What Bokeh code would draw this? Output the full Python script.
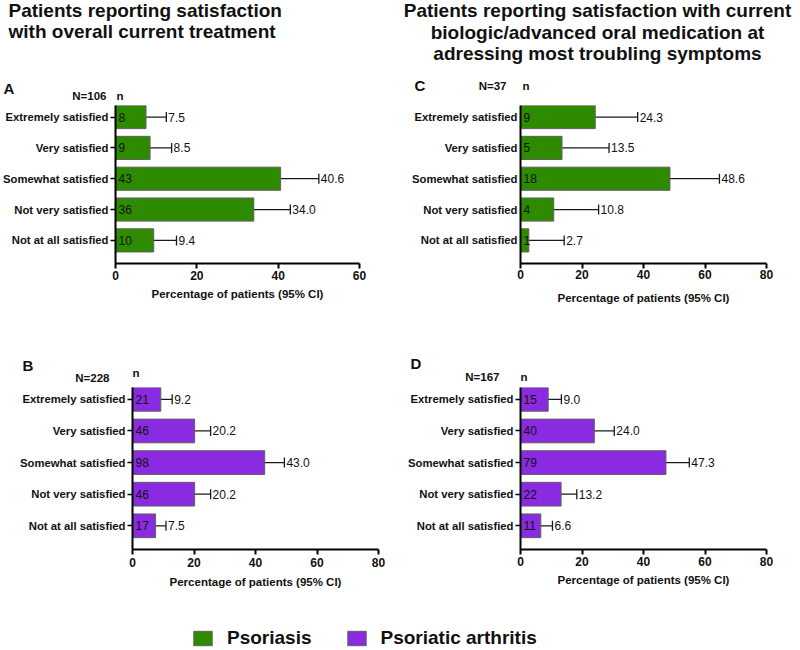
from bokeh.plotting import figure
from bokeh.models import (ColumnDataSource, Range1d, FixedTicker, Whisker, TeeHead,
                          Legend, LegendItem)
from bokeh.layouts import column, row
from bokeh.embed import file_html
from bokeh.resources import INLINE
from bokeh.core.properties import value

# ---------------- data ----------------
categories = ["Extremely satisfied", "Very satisfied", "Somewhat satisfied",
              "Not very satisfied", "Not at all satisfied"]

# A: overall current treatment, psoriasis (N=106)
a_n = [8, 9, 43, 36, 10]
a_pct = [7.5, 8.5, 40.6, 34.0, 9.4]
a_lo = [2.5, 3.2, 31.2, 25.0, 3.9]
a_hi = [12.5, 13.8, 50.0, 43.0, 15.0]

# B: overall current treatment, psoriatic arthritis (N=228)
b_n = [21, 46, 98, 46, 17]
b_pct = [9.2, 20.2, 43.0, 20.2, 7.5]
b_lo = [5.4, 15.0, 36.6, 15.0, 4.1]
b_hi = [12.9, 25.4, 49.4, 25.4, 10.9]

# C: biologic/advanced oral, psoriasis (N=37)
c_n = [9, 5, 18, 4, 1]
c_pct = [24.3, 13.5, 48.6, 10.8, 2.7]
c_lo = [10.5, 4.5, 32.5, 3.0, 0.1]
c_hi = [38.1, 28.8, 64.7, 25.4, 14.2]

# D: biologic/advanced oral, psoriatic arthritis (N=167)
d_n = [15, 40, 79, 22, 11]
d_pct = [9.0, 24.0, 47.3, 13.2, 6.6]
d_lo = [4.7, 17.5, 39.7, 8.1, 2.8]
d_hi = [13.3, 30.5, 54.9, 18.3, 10.4]

x_ticks_a = [0, 20, 40, 60]
x_ticks_bcd = [0, 20, 40, 60, 80]

title_left = ["Patients reporting satisfaction", "with overall current treatment"]
title_right = ["Patients reporting satisfaction with current",
               "biologic/advanced oral medication at",
               "adressing most troubling symptoms"]
panel_letters = ["A", "B", "C", "D"]
panel_totals = ["N=106", "N=228", "N=37", "N=167"]
legend_labels = ["Psoriasis", "Psoriatic arthritis"]
x_title = "Percentage of patients (95% CI)"

# ---------------- style ----------------
GREEN = "#2e8b00"
PURPLE = "#8a2be2"
FONT = "Liberation Sans"
TXT = "#111111"
Y_TOP = 4.375
Y_BOT = -0.75


def make_panel(width, height, bl, br, bt, bb, x_end, ticks,
               ns, pct, lo, hi, color, tick_std, title_std, ytick_out=5):
    p = figure(width=width, height=height, x_range=Range1d(0, x_end),
               y_range=Range1d(Y_BOT, Y_TOP), title=None,
               toolbar_location=None, output_backend="svg",
               min_border_left=bl, min_border_right=br,
               min_border_top=bt, min_border_bottom=bb)
    p.outline_line_color = None
    p.grid.visible = False

    ypos = list(range(len(categories) - 1, -1, -1))
    src = ColumnDataSource(dict(
        y=ypos, n=[str(v) for v in ns], pct=pct,
        pct_txt=[f"{v:.1f}" for v in pct], lo=lo, hi=hi))

    p.hbar(y="y", left=0, right="pct", height=0.75, fill_color=color,
           line_color="#5f5f5f", line_width=1, source=src)

    p.add_layout(Whisker(
        base="y", lower="lo", upper="hi", dimension="width", source=src,
        line_color="#1a1a1a", line_width=1.3,
        lower_head=TeeHead(size=10, line_color="#1a1a1a", line_width=1.3),
        upper_head=TeeHead(size=10, line_color="#1a1a1a", line_width=1.3)))

    p.text(x=0, y="y", text="n", x_offset=3, source=src,
           text_align="left", text_baseline="middle",
           text_font=value(FONT), text_font_size="12px", text_color=TXT)
    p.text(x="hi", y="y", text="pct_txt", x_offset=2, source=src,
           text_align="left", text_baseline="middle",
           text_font=value(FONT), text_font_size="12px", text_color=TXT)

    xa = p.xaxis[0]
    xa.ticker = FixedTicker(ticks=ticks)
    xa.axis_label = x_title
    xa.axis_label_text_font = FONT
    xa.axis_label_text_font_size = "11.5px"
    xa.axis_label_text_font_style = "bold"
    xa.axis_label_text_color = TXT
    xa.axis_label_standoff = title_std
    xa.major_label_text_font = FONT
    xa.major_label_text_font_size = "12px"
    xa.major_label_text_font_style = "bold"
    xa.major_label_text_color = TXT
    xa.major_label_standoff = tick_std
    xa.axis_line_width = 2
    xa.axis_line_color = "black"
    xa.major_tick_line_width = 2
    xa.major_tick_out = 5
    xa.major_tick_in = 0
    xa.minor_tick_line_color = None

    ya = p.yaxis[0]
    ya.ticker = FixedTicker(ticks=ypos)
    ya.major_label_overrides = {y: c for y, c in zip(ypos, categories)}
    ya.major_label_text_font = FONT
    ya.major_label_text_font_size = "11.3px"
    ya.major_label_text_font_style = "bold"
    ya.major_label_text_color = TXT
    ya.major_label_standoff = 2 if ytick_out else 3
    ya.axis_line_width = 2
    ya.axis_line_color = "black"
    ya.major_tick_line_width = 1.5
    ya.major_tick_out = ytick_out
    ya.major_tick_in = 0
    if not ytick_out:
        ya.major_tick_line_color = None
    ya.minor_tick_line_color = None
    return p


def make_header(width, height, items):
    """items: (text, x_px, y_px_from_top, align, size)"""
    h = figure(width=width, height=height, x_range=Range1d(0, width),
               y_range=Range1d(height, 0), title=None, toolbar_location=None,
               output_backend="svg", x_axis_location=None, y_axis_location=None,
               min_border=0)
    h.outline_line_color = None
    h.grid.visible = False
    for align in ("left", "center", "right"):
        for size in sorted({it[4] for it in items}):
            sel = [it for it in items if it[3] == align and it[4] == size]
            if not sel:
                continue
            h.text(x=[it[1] for it in sel], y=[it[2] for it in sel],
                   text=[it[0] for it in sel], text_align=align,
                   text_baseline="middle", text_font=value(FONT),
                   text_font_size=size, text_font_style="bold",
                   text_color=TXT)
    return h


T = "19px"
S = "11.5px"
L = "15px"
head1 = make_header(800, 100, [
    (title_left[0], 8, 10, "left", T),
    (title_left[1], 8, 31, "left", T),
    (title_right[0], 597, 10, "center", T),
    (title_right[1], 597, 32, "center", T),
    (title_right[2], 597, 53, "center", T),
    (panel_letters[0], 3, 88, "left", L),
    (panel_totals[0], 106, 95, "right", S),
    ("n", 116, 95, "left", S),
    (panel_letters[2], 414, 85, "left", L),
    (panel_totals[2], 506, 85, "right", S),
    ("n", 522, 85, "left", S),
])

pA = make_panel(400, 245, 114, 41, 5, 76, 60, x_ticks_a,
                a_n, a_pct, a_lo, a_hi, GREEN, 2, 5)
pC = make_panel(400, 245, 120, 34, 0, 82, 80, x_ticks_bcd,
                c_n, c_pct, c_lo, c_hi, GREEN, 1, 10, ytick_out=0)

head2 = make_header(800, 40, [
    (panel_letters[1], 22, 20, "left", L),
    (panel_totals[1], 109, 32, "right", S),
    ("n", 132, 27, "left", S),
    (panel_letters[3], 410, 18, "left", L),
    (panel_totals[3], 499, 31, "right", S),
    ("n", 520, 31, "left", S),
])

pB = make_panel(400, 225, 132, 22, 0, 61, 80, x_ticks_bcd,
                b_n, b_pct, b_lo, b_hi, PURPLE, 3, 6)
pD = make_panel(400, 225, 120, 34, 2, 59, 80, x_ticks_bcd,
                d_n, d_pct, d_lo, d_hi, PURPLE, 2, 5)

# legend strip
lg = figure(width=800, height=40, x_range=Range1d(0, 1), y_range=Range1d(0, 1),
            title=None, toolbar_location=None, output_backend="svg",
            x_axis_location=None, y_axis_location=None, min_border=0)
lg.outline_line_color = None
lg.grid.visible = False
# legend-only renderers (placed outside the visible range)
r1 = lg.rect(x=[-5], y=[-5], width=1, height=1, fill_color=GREEN, line_color="#5f5f5f")
r2 = lg.rect(x=[-5], y=[-5], width=1, height=1, fill_color=PURPLE, line_color="#5f5f5f")
leg = Legend(items=[LegendItem(label=legend_labels[0], renderers=[r1]),
                    LegendItem(label=legend_labels[1], renderers=[r2])],
             orientation="horizontal", location=(191, 1),
             glyph_width=23, glyph_height=18, label_standoff=13, spacing=33,
             padding=0, margin=0, border_line_color=None,
             background_fill_alpha=0,
             label_text_font=FONT, label_text_font_size="19px",
             label_text_font_style="bold", label_text_color=TXT)
lg.add_layout(leg)

layout = column(head1, row(pA, pC, spacing=0), head2, row(pB, pD, spacing=0), lg,
                spacing=0)

open("out.html", "w").write(file_html(layout, INLINE))
